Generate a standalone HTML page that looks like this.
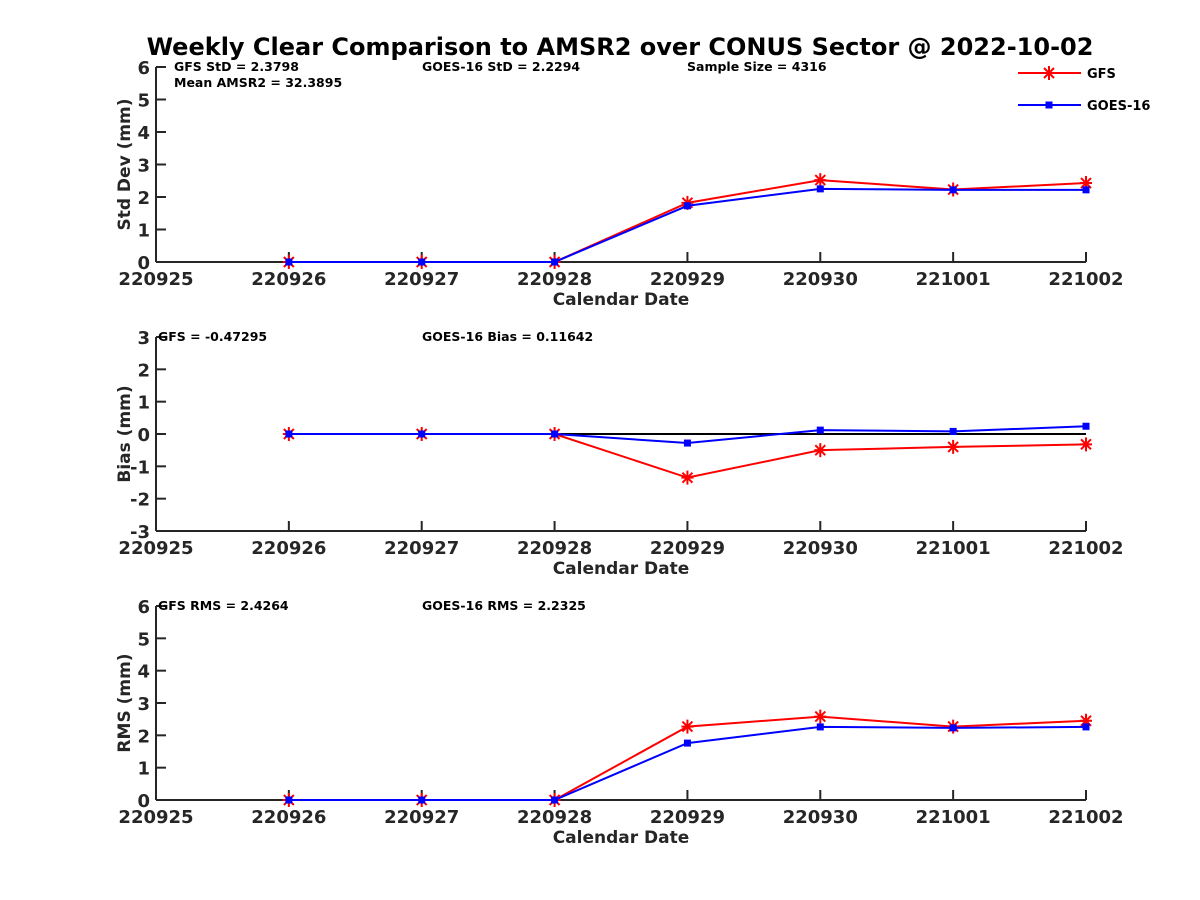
<!DOCTYPE html>
<html><head><meta charset="utf-8"><style>
body{margin:0;background:#fff}
svg{display:block;font-family:"DejaVu Sans","Liberation Sans",sans-serif}
</style></head><body>
<svg id="c" width="1200" height="900">
<text x="620" y="55" text-anchor="middle" font-size="24" font-weight="bold">Weekly Clear Comparison to AMSR2 over CONUS Sector @ 2022-10-02</text>
</svg>
<script>
const dates=["220925","220926","220927","220928","220929","220930","221001","221002"];
const stdGFS=[0,0,0,1.82,2.52,2.23,2.43];
const stdGOES=[0,0,0,1.73,2.25,2.22,2.22];
const biasGFS=[0,0,0,-1.35,-0.5,-0.4,-0.32];
const biasGOES=[0,0,0,-0.28,0.12,0.08,0.24];
const rmsGFS=[0,0,0,2.27,2.58,2.27,2.45];
const rmsGOES=[0,0,0,1.76,2.26,2.23,2.26];
const stdTicks=[0,1,2,3,4,5,6];
const biasTicks=[-3,-2,-1,0,1,2,3];
const rmsTicks=[0,1,2,3,4,5,6];
const svg=document.getElementById('c');
const NS="http://www.w3.org/2000/svg";
function mk(t,a,txt){const e=document.createElementNS(NS,t);for(const k in a)e.setAttribute(k,a[k]);if(txt!=null)e.textContent=txt;svg.appendChild(e);return e;}
const X0=156,X1=1086;
function xs(i){return X0+(X1-X0)*i/(dates.length-1);}
function panel(name,top,bot,ticks,ylabel,gfs,goes,notes,zeroLine){
  const lo=ticks[0],hi=ticks[ticks.length-1];
  const ys=v=>bot-(v-lo)/(hi-lo)*(bot-top);
  let e;
  e=mk('line',{x1:X0,y1:top,x2:X0,y2:bot,stroke:'#262626','stroke-width':2});
  
  e=mk('line',{x1:X0,y1:bot,x2:X1,y2:bot,stroke:'#262626','stroke-width':2});
  
  ticks.forEach(t=>{const y=ys(t);
    e=mk('line',{x1:X0,y1:y,x2:X0+10,y2:y,stroke:'#262626','stroke-width':2});
    
    e=mk('text',{x:X0-6,y:y+7,'text-anchor':'end','font-size':18,'font-weight':'bold',fill:'#262626'},String(t));
    
  });
  dates.forEach((d,i)=>{const x=xs(i);
    e=mk('line',{x1:x,y1:bot,x2:x,y2:bot-10,stroke:'#262626','stroke-width':2});
    
    e=mk('text',{x:x,y:bot+23,'text-anchor':'middle','font-size':18,'font-weight':'bold',fill:'#262626'},d);
    
  });
  e=mk('text',{x:621,y:bot+43,'text-anchor':'middle','font-size':17,'font-weight':'bold',fill:'#262626'},'Calendar Date');
  
  const cy=(top+bot)/2;
  e=mk('text',{x:0,y:0,transform:`translate(130,${cy}) rotate(-90)`,'text-anchor':'middle','font-size':17,'font-weight':'bold',fill:'#262626'},ylabel);
  
  if(zeroLine){e=mk('line',{x1:xs(1),y1:ys(0),x2:X1,y2:ys(0),stroke:'#000','stroke-width':2});
    }
  const pts=a=>a.map((v,i)=>xs(i+1)+','+ys(v)).join(' ');
  e=mk('polyline',{points:pts(gfs),fill:'none',stroke:'#f00','stroke-width':2});
  
  gfs.forEach((v,i)=>{const x=xs(i+1),y=ys(v);
    e=mk('path',{d:`M${x-6},${y}H${x+6}M${x},${y-7}V${y+7}M${x-5},${y-5}L${x+5},${y+5}M${x-5},${y+5}L${x+5},${y-5}`,stroke:'#f00','stroke-width':2});
    });
  e=mk('polyline',{points:pts(goes),fill:'none',stroke:'#00f','stroke-width':2});
  
  goes.forEach((v,i)=>{const x=xs(i+1),y=ys(v);
    e=mk('rect',{x:x-3.5,y:y-3.5,width:7,height:7,fill:'#00f'});
    });
  notes.forEach(n=>{e=mk('text',{x:n[0],y:top+n[1],'font-size':12.5,'font-weight':'bold',fill:'#000'},n[2]);
    });
}
panel('std',67,262,stdTicks,'Std Dev (mm)',stdGFS,stdGOES,[[174,4,'GFS StD = 2.3798'],[174,20,'Mean AMSR2 = 32.3895'],[422,4,'GOES-16 StD = 2.2294'],[687,4,'Sample Size = 4316']],false);
panel('bias',337,531,biasTicks,'Bias (mm)',biasGFS,biasGOES,[[158,4,'GFS = -0.47295'],[422,4,'GOES-16 Bias  = 0.11642']],true);
panel('rms',606,800,rmsTicks,'RMS (mm)',rmsGFS,rmsGOES,[[158,4,'GFS RMS = 2.4264'],[422,4,'GOES-16 RMS = 2.2325']],false);
let e;
e=mk('line',{x1:1018,y1:73,x2:1081,y2:73,stroke:'#f00','stroke-width':2});

e=mk('path',{d:'M1043,73H1055M1049,66V80M1044,68L1054,78M1044,78L1054,68',stroke:'#f00','stroke-width':2});

e=mk('text',{x:1087,y:78,'font-size':13,'font-weight':'bold'},'GFS');

e=mk('line',{x1:1018,y1:105,x2:1081,y2:105,stroke:'#00f','stroke-width':2});

e=mk('rect',{x:1045.5,y:101.5,width:7,height:7,fill:'#00f'});

e=mk('text',{x:1087,y:110,'font-size':13,'font-weight':'bold'},'GOES-16');

</script>
</body></html>
